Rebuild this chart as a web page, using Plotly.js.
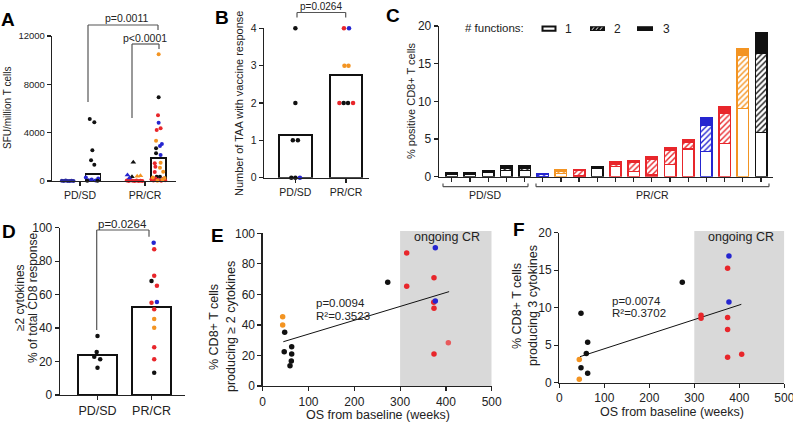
<!DOCTYPE html>
<html><head><meta charset="utf-8">
<script src="https://cdn.plot.ly/plotly-3.0.1.min.js"></script>
<style>html,body{margin:0;padding:0;background:#fff}#chart{width:793px;height:423px}</style>
</head><body><div id="chart"></div>
<script>
const W = 793, H = 423;
const px = v => v / W, py = v => 1 - v / H;
const BLK = '#111111', RED = '#e8262b', LRED = '#e85a5c', BLU = '#2525d0', ORG = '#f39422', NAVY = '#2a2a9e';
const FONT = 'Liberation Sans, Arial, Helvetica, sans-serif';
const TXT = '#222222';

// ---------- Panel A: SFU/million T cells ----------
const aCats = ['PD/SD', 'PR/CR'];
const aYTicks = [0, 4000, 8000, 12000];
const aYTickText = ['0', '4000', '8000', '12000'];
const aBarX = [1.2, 2.21];
const aBarY = [550, 1880];
const aPDpreX = [0.72, 0.75, 0.78, 0.81, 0.84, 0.87, 0.90];
const aPDpreY = [20, 0, 40, 10, 0, 30, 0];
const aPDpostX = [1.15, 1.22, 1.19, 1.17, 1.22, 1.09, 1.13, 1.18, 1.24, 1.28, 1.11, 1.27];
const aPDpostY = [5131, 4858, 2540, 1713, 1349, 280, 60, 120, 40, 200, 30, 20];
const aPDpostC = [BLK, BLK, BLK, BLK, BLK, BLU, BLU, BLU, BLU, BLU, BLK, BLK];
const aPRpreTriX = [1.82, 1.73, 1.80, 1.88, 1.93, 1.76];
const aPRpreTriY = [1550, 500, 360, 400, 430, 250];
const aPRpreTriC = [BLK, BLU, BLK, ORG, ORG, BLU];
const aPRpreDotX = [1.72, 1.75, 1.78, 1.81, 1.84, 1.87, 1.90, 1.93, 1.96];
const aPRpreDotY = [40, 0, 60, 20, 0, 50, 10, 30, 0];
const aPRpostX = [2.21, 2.21, 2.20, 2.21, 2.18, 2.24, 2.17, 2.26, 2.23, 2.17, 2.17, 2.24, 2.15, 2.24, 2.16, 2.23, 2.28, 2.15, 2.18, 2.23,
  2.10, 2.13, 2.16, 2.20, 2.25, 2.28, 2.31, 2.12, 2.19, 2.27, 2.30];
const aPRpostY = [10486, 6925, 5437, 4828, 4221, 4359, 3338, 3062, 2897, 2704, 2290, 2152, 1462, 1517, 1186, 1103, 772, 750, 360, 360,
  150, 50, 200, 80, 30, 180, 60, 300, 20, 100, 250];
const aPRpostC = [ORG, BLK, RED, BLU, RED, RED, ORG, BLU, BLU, BLK, BLK, BLU, RED, ORG, RED, ORG, ORG, RED, BLK, BLK,
  RED, RED, RED, RED, RED, RED, RED, ORG, ORG, ORG, ORG];

// ---------- Panel B: Number of TAA ----------
const bCats = ['PD/SD', 'PR/CR'];
const bBar = [1.13, 2.74];
const bPDX = [0, 0, -0.05, 0.05, -0.08, 0, 0.09];
const bPDY = [4, 2, 1, 1, 0, 0, 0];
const bPDC = [BLK, BLK, BLK, BLK, BLK, BLK, BLU];
const bPRX = [0.96, 1.06, 0.97, 1.05, 0.87, 0.955, 1.04, 1.14];
const bPRY = [4, 4, 3, 3, 2, 2, 2, 2];
const bPRC = [RED, BLU, ORG, ORG, RED, BLK, BLK, RED];

// ---------- Panel C: % positive CD8+ T cells, stacked by # functions ----------
const cIdx = [0,1,2,3,4,5,6,7,8,9,10,11,12,13,14,15,16,17];
const cCol = [BLK, BLK, BLK, BLK, BLK, BLU, ORG, RED, BLK, RED, RED, RED, RED, RED, BLU, RED, ORG, BLK];
const cF1 = [0.35, 0.38, 0.55, 0.80, 0.80, 0.05, 0.40, 0.10, 1.10, 1.33, 0.66, 0.22, 1.64, 3.68, 3.32, 4.43, 9.08, 5.84];
const cF2 = [0.05, 0.05, 0.05, 0.32, 0.30, 0.30, 0.30, 0.70, 0.05, 0.36, 1.20, 2.12, 1.90, 0.84, 3.55, 3.98, 7.08, 10.54];
const cF3 = [0.15, 0.15, 0.20, 0.35, 0.36, 0.10, 0.18, 0.18, 0.20, 0.27, 0.32, 0.27, 0.36, 0.36, 0.97, 0.93, 0.76, 2.74];

// ---------- Panel D: >=2 cytokines % of total CD8 response ----------
const dCats = ['PD/SD', 'PR/CR'];
const dBar = [23.9, 52.8];
const dPDX = [0, -0.015, -0.06, 0.05, 0];
const dPDY = [35.3, 25.7, 22.9, 21.3, 16.3];
const dPRX = [1.04, 1.05, 1.05, 1.0, 1.1, 1.0, 1.1, 1.05, 1.05, 1.05, 1.05, 1.05, 1.05];
const dPRY = [91.0, 87.1, 71.3, 68.1, 65.3, 55.2, 55.6, 51.2, 45.4, 40.2, 28.5, 21.3, 13.3];
const dPRC = [BLU, RED, RED, BLK, RED, RED, BLU, RED, ORG, ORG, RED, RED, BLK];

// ---------- Panel E: % CD8+ producing >=2 cytokines vs OS ----------
const eX = [43.6, 43.6, 48, 47, 63.3, 63.3, 62.5, 59.6, 273, 314.4, 314.4, 376.9, 374, 373.4, 376.9, 374, 405.3, 374];
const eY = [45.4, 40.0, 35.2, 22.5, 25.7, 21.0, 16.4, 13.3, 67.9, 87.1, 65.3, 90.6, 70.9, 54.8, 55.7, 50.9, 28.4, 21.0];
const eC = [ORG, ORG, BLK, BLK, BLK, BLK, BLK, BLK, BLK, RED, RED, BLU, RED, RED, BLU, RED, LRED, RED];
const eFitX = [45, 407];
const eFitY = [29.0, 61.8];

// ---------- Panel F: % CD8+ producing 3 cytokines vs OS ----------
const fX = [48.2, 273.3, 377, 374, 377, 315, 315, 374, 374, 374, 405.3, 63, 60, 44.4, 48.2, 63, 44.4];
const fY = [9.25, 13.4, 16.9, 15.25, 10.75, 9.0, 8.6, 8.7, 7.1, 3.4, 3.8, 5.4, 3.9, 3.1, 2.0, 1.25, 0.45];
const fC = [BLK, BLK, BLU, RED, BLU, RED, RED, RED, RED, RED, RED, BLK, BLK, ORG, BLK, BLK, ORG];
const fFitX = [46, 404.5];
const fFitY = [3.47, 10.45];
const crWeeks = [300, 500];

// ---------- traces ----------
const traces = [];
const dots = (x, y, c, xa, ya, size, sym) => ({
  type: 'scatter', mode: 'markers', x, y, xaxis: xa, yaxis: ya, cliponaxis: false, hoverinfo: 'skip',
  marker: {color: c, size: size, symbol: sym || 'circle', line: {width: 0}}
});
const whiteBar = (x, y, xa, ya, w, lw) => ({
  type: 'bar', x, y, xaxis: xa, yaxis: ya, width: w, hoverinfo: 'skip',
  marker: {color: 'rgba(255,255,255,0)', line: {color: BLK, width: lw}}
});

// A
traces.push(whiteBar(aBarX, aBarY, 'x', 'y', 0.23, 1.8));
traces.push(dots(aPDpreX, aPDpreY, NAVY, 'x', 'y', 4));
traces.push(dots(aPDpostX, aPDpostY, aPDpostC, 'x', 'y', 4));
traces.push(dots(aPRpreDotX, aPRpreDotY, RED, 'x', 'y', 4));
traces.push(dots(aPRpreTriX, aPRpreTriY, aPRpreTriC, 'x', 'y', 5, 'triangle-up'));
traces.push(dots(aPRpostX, aPRpostY, aPRpostC, 'x', 'y', 4));
// B
traces.push(whiteBar([0, 1], bBar, 'x2', 'y2', 0.65, 2));
traces.push(dots(bPDX, bPDY, bPDC, 'x2', 'y2', 4.5));
traces.push(dots(bPRX, bPRY, bPRC, 'x2', 'y2', 4.5));
// C
traces.push({type: 'bar', x: cIdx, y: cF1, xaxis: 'x3', yaxis: 'y3', width: 0.63, hoverinfo: 'skip',
  marker: {color: '#ffffff', line: {color: cCol, width: 1.5}}});
traces.push({type: 'bar', x: cIdx, y: cF2, xaxis: 'x3', yaxis: 'y3', width: 0.63, hoverinfo: 'skip',
  marker: {color: '#ffffff', line: {color: cCol, width: 1.5},
    pattern: {shape: '/', fgcolor: cCol, bgcolor: '#ffffff', size: 4, solidity: 0.35}}});
traces.push({type: 'bar', x: cIdx, y: cF3, xaxis: 'x3', yaxis: 'y3', width: 0.63, hoverinfo: 'skip',
  marker: {color: cCol, line: {color: cCol, width: 1.5}}});
// D
traces.push(whiteBar([0, 1], dBar, 'x4', 'y4', 0.72, 2));
traces.push(dots(dPDX, dPDY, BLK, 'x4', 'y4', 4.5));
traces.push(dots(dPRX, dPRY, dPRC, 'x4', 'y4', 4.5));
// E
traces.push({type: 'scatter', mode: 'lines', x: eFitX, y: eFitY, xaxis: 'x5', yaxis: 'y5', hoverinfo: 'skip',
  line: {color: BLK, width: 1}});
traces.push(dots(eX, eY, eC, 'x5', 'y5', 5.5));
// F
traces.push({type: 'scatter', mode: 'lines', x: fFitX, y: fFitY, xaxis: 'x6', yaxis: 'y6', hoverinfo: 'skip',
  line: {color: BLK, width: 1}});
traces.push(dots(fX, fY, fC, 'x6', 'y6', 5.5));

// ---------- axes ----------
function ax(domain, range, extra) {
  return Object.assign({domain, range, showline: true, linecolor: TXT, linewidth: 1.3, ticks: 'outside', ticklen: 4,
    tickwidth: 1.2, tickcolor: TXT, showgrid: false, zeroline: false, fixedrange: true, ticklabeloverflow: 'allow',
    tickfont: {family: FONT, size: 12, color: TXT}}, extra || {});
}
const layout = {
  width: W, height: H, margin: {l: 0, r: 0, t: 0, b: 0}, showlegend: false, barmode: 'stack',
  paper_bgcolor: '#ffffff', plot_bgcolor: 'rgba(0,0,0,0)', font: {family: FONT, color: TXT},
  xaxis: ax([px(52), px(176)], [0.569, 2.477], {anchor: 'y', tickvals: [1, 2], ticktext: aCats, tickfont: {family: FONT, size: 10.5, color: TXT}}),
  yaxis: ax([py(181), py(36)], [0, 12000], {anchor: 'x', tickvals: aYTicks, ticktext: aYTickText, tickfont: {family: FONT, size: 9.5, color: TXT}}),
  xaxis2: ax([px(264), px(369)], [-0.62, 1.455], {anchor: 'y2', tickvals: [0, 1], ticktext: bCats, tickfont: {family: FONT, size: 10.5, color: TXT}}),
  yaxis2: ax([py(177.7), py(28.3)], [0, 4], {anchor: 'x2', dtick: 1, tickfont: {family: FONT, size: 10.5, color: TXT}}),
  xaxis3: ax([px(439), px(772.7)], [-0.7, 17.64], {anchor: 'y3', tickvals: cIdx, showticklabels: false}),
  yaxis3: ax([py(176.7), py(26)], [0, 20], {anchor: 'x3', dtick: 5, tickfont: {family: FONT, size: 12, color: TXT}}),
  xaxis4: ax([px(60), px(185)], [-0.694, 1.62], {anchor: 'y4', tickvals: [0, 1], ticktext: dCats, tickfont: {family: FONT, size: 12.5, color: TXT}}),
  yaxis4: ax([py(395), py(227.7)], [0, 100], {anchor: 'x4', dtick: 20, tickfont: {family: FONT, size: 12, color: TXT}}),
  xaxis5: ax([px(262.7), px(491.7)], [0, 500], {anchor: 'y5', dtick: 100}),
  yaxis5: ax([py(386), py(233.3)], [0, 100], {anchor: 'x5', dtick: 20}),
  xaxis6: ax([px(559.3), px(784.3)], [0, 500], {anchor: 'y6', dtick: 100}),
  yaxis6: ax([py(382.7), py(232.7)], [0, 20], {anchor: 'x6', dtick: 5})
};

// ---------- shapes ----------
const GR = '#555555';
const seg = (x0, y0, x1, y1, col, w) => ({type: 'line', xref: 'paper', yref: 'paper', x0: px(x0), y0: py(y0), x1: px(x1), y1: py(y1),
  line: {color: col || GR, width: w || 1.2}});
const rect = (x0, y0, x1, y1, fill, lc, lw) => ({type: 'rect', xref: 'paper', yref: 'paper', x0: px(x0), y0: py(y0), x1: px(x1), y1: py(y1),
  fillcolor: fill, line: {color: lc || fill, width: lw === undefined ? 0 : lw}});
const shapes = [
  // A brackets
  seg(88, 25, 158, 25), seg(88, 25, 88, 102), seg(158, 25, 158, 30),
  seg(132, 44, 159, 44), seg(132, 44, 132, 118), seg(159, 44, 159, 49),
  // B bracket
  seg(297, 12.5, 345.7, 12.5), seg(297, 12.5, 297, 17.5), seg(345.7, 12.5, 345.7, 17.5),
  // D bracket
  seg(96.7, 230, 149, 230), seg(96.7, 230, 96.7, 330), seg(149, 230, 149, 236.7),
  // C group brackets
  seg(443, 186.7, 528, 186.7), seg(443, 186.7, 443, 183.5), seg(528, 186.7, 528, 183.5),
  seg(536, 186.7, 769, 186.7), seg(536, 186.7, 536, 183.5), seg(769, 186.7, 769, 183.5),
  // C legend swatches
  rect(542.5, 26.5, 555.5, 30.7, '#ffffff', BLK, 2),
  rect(590, 26.2, 605, 31, BLK),
  {type: 'path', xref: 'paper', yref: 'paper', line: {color: '#ffffff', width: 1},
    path: `M${px(592)},${py(29.8)}L${px(594)},${py(27.4)}M${px(596)},${py(29.8)}L${px(598)},${py(27.4)}M${px(600)},${py(29.8)}L${px(602)},${py(27.4)}`},
  rect(637, 26.2, 653, 31, BLK),
  // ongoing CR regions
  {type: 'rect', xref: 'x5', yref: 'paper', x0: crWeeks[0], x1: crWeeks[1], y0: py(386), y1: py(231), fillcolor: '#d9d9d9', line: {width: 0}, layer: 'below'},
  {type: 'rect', xref: 'x6', yref: 'paper', x0: crWeeks[0], x1: crWeeks[1], y0: py(382.7), y1: py(231), fillcolor: '#d9d9d9', line: {width: 0}, layer: 'below'}
];
layout.shapes = shapes;

// ---------- annotations ----------
const ann = (text, x, y, size, opts) => Object.assign({text, xref: 'paper', yref: 'paper', x: px(x), y: py(y), showarrow: false,
  xanchor: 'center', yanchor: 'middle', font: {family: FONT, size: size, color: TXT}}, opts || {});
const bold = (t, x, y) => ann('<b>' + t + '</b>', x, y, 19, {font: {family: FONT, size: 19, color: '#000'}});
layout.annotations = [
  bold('A', 8, 20), bold('B', 222, 18), bold('C', 392.5, 15), bold('D', 8.5, 231), bold('E', 217, 235), bold('F', 519, 229),
  ann('p=0.0011', 126, 18, 10.5), ann('p<0.0001', 145, 38.5, 10.5),
  ann('p=0.0264', 321, 6, 10), ann('p=0.0264', 122, 223.5, 11.5),
  ann('SFU/million T cells', 8, 108, 10, {textangle: -90}),
  ann('Number of TAA with vaccine response', 239, 104, 11, {textangle: -90}),
  ann('% positive CD8+ T cells', 411, 100, 11, {textangle: -90}),
  ann('≥2 cytokines', 20, 298, 12, {textangle: -90}),
  ann('% of total CD8 response', 33, 298, 12, {textangle: -90}),
  ann('% CD8+ T cells', 214, 327, 12.5, {textangle: -90}),
  ann('producing ≥ 2 cytokines', 231, 327, 12.5, {textangle: -90}),
  ann('% CD8+ T cells', 517, 306, 12.5, {textangle: -90}),
  ann('producing 3 cytokines', 533, 306, 12.5, {textangle: -90}),
  ann('OS from baseline (weeks)', 377.7, 415, 12.5),
  ann('OS from baseline (weeks)', 671.7, 411.5, 12.5),
  ann('ongoing CR', 446.7, 236.7, 12.5), ann('ongoing CR', 740.7, 236.7, 12.5),
  ann('p=0.0094', 314, 303, 11.5, {xanchor: 'left'}), ann('R²=0.3523', 314, 315.5, 11.5, {xanchor: 'left'}),
  ann('p=0.0074', 610, 301, 11.5, {xanchor: 'left'}), ann('R²=0.3702', 610, 312.5, 11.5, {xanchor: 'left'}),
  ann('PD/SD', 485.5, 194.5, 10.5), ann('PR/CR', 652.5, 194.5, 10.5),
  ann('# functions:', 495, 27.5, 11.5), ann('1', 568, 28.5, 12), ann('2', 617, 28.5, 12), ann('3', 666, 28.5, 12)
];

Plotly.newPlot('chart', traces, layout, {staticPlot: true, displayModeBar: false});
</script>
</body></html>
